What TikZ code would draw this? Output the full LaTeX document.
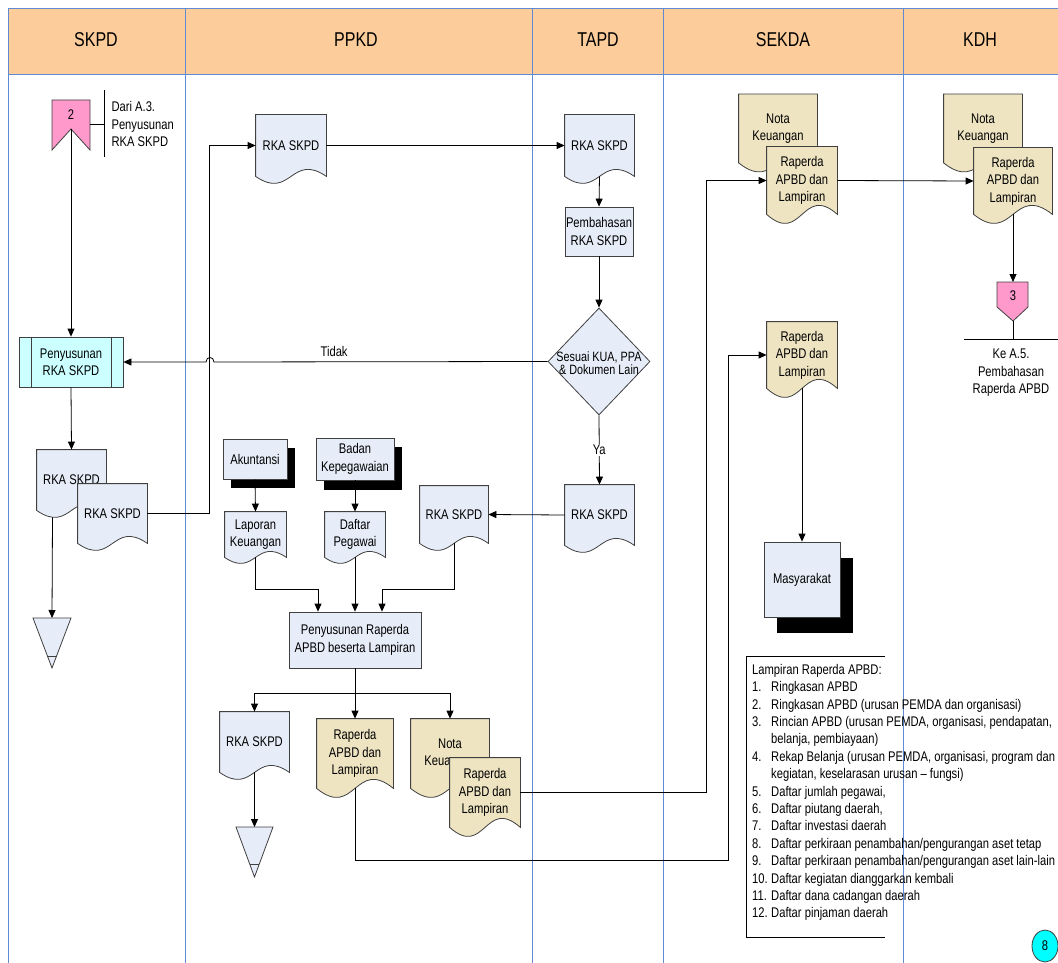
\documentclass[tikz,border=0pt]{standalone}
\usepackage{fontspec}
\setmainfont[FakeStretch=0.8]{Liberation Sans}
\usepackage{tikz}
\usetikzlibrary{arrows.meta,shapes.geometric,shadows}

\definecolor{headpeach}{RGB}{252,204,154}
\definecolor{laneblue}{RGB}{96,138,212}
\definecolor{docblue}{RGB}{231,237,248}
\definecolor{doctan}{RGB}{238,228,194}
\definecolor{proccyan}{RGB}{204,255,255}
\definecolor{refpink}{RGB}{255,153,204}
\definecolor{pagecyan}{RGB}{0,255,255}
\definecolor{shapegray}{RGB}{64,64,64}

\newcommand{\flowfont}{\fontsize{14}{17.4}\selectfont}
\newcommand{\headfont}{\fontsize{20}{24}\selectfont}
\newcommand{\nomor}[1]{\makebox[19pt][l]{#1}}

% dokumen: kotak dengan tepi bawah bergelombang
\makeatletter
\def\docwave{7pt}
\newdimen\docup
\newdimen\docdown
\pgfdeclareshape{wavydoc}{
  \inheritsavedanchors[from=rectangle]
  \inheritanchorborder[from=rectangle]
  \inheritanchor[from=rectangle]{center}
  \inheritanchor[from=rectangle]{text}
  \inheritanchor[from=rectangle]{base}
  \inheritanchor[from=rectangle]{mid}
  \inheritanchor[from=rectangle]{north}
  \inheritanchor[from=rectangle]{south}
  \inheritanchor[from=rectangle]{east}
  \inheritanchor[from=rectangle]{west}
  \inheritanchor[from=rectangle]{north east}
  \inheritanchor[from=rectangle]{north west}
  \inheritanchor[from=rectangle]{south east}
  \inheritanchor[from=rectangle]{south west}
  \backgroundpath{
    \southwest \pgf@xa=\pgf@x \pgf@ya=\pgf@y
    \northeast \pgf@xb=\pgf@x \pgf@yb=\pgf@y
    \pgf@xc=.5\pgf@xa \advance\pgf@xc by .5\pgf@xb
    \pgf@yc=\docwave\relax \pgf@yc=3.47\pgf@yc
    \docup=\pgf@ya \advance\docup by \pgf@yc
    \docdown=\pgf@ya \advance\docdown by -\pgf@yc
    \pgfpathmoveto{\pgfqpoint{\pgf@xa}{\pgf@ya}}
    \pgfpathlineto{\pgfqpoint{\pgf@xa}{\pgf@yb}}
    \pgfpathlineto{\pgfqpoint{\pgf@xb}{\pgf@yb}}
    \pgfpathlineto{\pgfqpoint{\pgf@xb}{\pgf@ya}}
    \pgfpathcurveto{\pgfqpoint{\pgf@xc}{\docup}}{\pgfqpoint{\pgf@xc}{\docdown}}{\pgfqpoint{\pgf@xa}{\pgf@ya}}
    \pgfpathclose
  }
}
\makeatother

\tikzset{
lane/.style={draw=laneblue, line width=0.9pt},
judul/.style={font=\headfont},
teks/.style={font=\flowfont, align=center},
flow/.style={draw=black, line width=0.8pt, -{Triangle[length=8pt,width=7pt]}},
link/.style={draw=black, line width=0.8pt},
docwave/.code={\def\docwave{#1}},
doc/.style={shape=wavydoc, draw=shapegray, fill=docblue, line width=0.8pt, align=center, inner sep=1pt, font=\flowfont},
rka/.style={doc, minimum width=69pt, minimum height=60pt},
kecil/.style={doc, minimum width=61pt, minimum height=45pt, docwave=6pt},
raperda/.style={doc, fill=doctan, minimum width=70pt, minimum height=68pt, docwave=9pt},
nota/.style={raperda, minimum width=78pt},
proses/.style={rectangle, draw=shapegray, fill=docblue, line width=0.8pt, align=center, inner sep=1pt, font=\flowfont},
eksternal/.style={proses, general shadow={fill=black, shadow xshift=8pt, shadow yshift=-9pt}},
decision/.style={diamond, draw=shapegray, fill=docblue, line width=0.8pt, inner sep=0pt, minimum width=102pt, minimum height=107pt},
arsip/.style={draw=shapegray, fill=docblue, line width=0.8pt},
offpage/.style={draw=shapegray, fill=refpink, line width=0.8pt},
}

\begin{document}
\begin{tikzpicture}[x=1pt, y=-1pt]
\useasboundingbox (0,0) rectangle (1058,963);
\fill[white] (0,0) rectangle (1058,963);
\fill[headpeach] (8,8) rectangle (1058,74);
\draw[lane] (1058,8) -- (8,8) -- (8,963);
\draw[lane] (8,74) -- (1058,74);
\draw[lane] (185,8) -- (185,963);
\draw[lane] (532,8) -- (532,963);
\draw[lane] (663,8) -- (663,963);
\draw[lane] (903,8) -- (903,963);
\node[judul] (hSKPD) at (96,40) {SKPD};
\node[judul] (hPPKD) at (356,40) {PPKD};
\node[judul] (hTAPD) at (598,40) {TAPD};
\node[judul] (hSEKDA) at (783,40) {SEKDA};
\node[judul] (hKDH) at (980,40) {KDH};

% SKPD
\draw[offpage] (52,100) -- (90,100) -- (90,150) -- (71,129) -- (52,150) -- cycle;
\node[teks] (ke2) at (71,115) {2};
\coordinate (ke2b) at (71,129);
\coordinate (dariA) at (90,124);
\coordinate (dariB) at (104,124);
\draw[link] (dariA) -- (dariB);
\draw[link] (104,90) -- (104,157);
\node[font=\flowfont, align=left, anchor=west] (dari) at (108,124) {Dari A.3.\\Penyusunan\\RKA SKPD};

\node[proses, fill=proccyan, minimum width=104pt, minimum height=50pt] (pen) at (71,362) {Penyusunan\\RKA SKPD};
\draw[shapegray, line width=0.8pt] ([xshift=13pt]pen.north west) -- ([xshift=13pt]pen.south west);
\draw[shapegray, line width=0.8pt] ([xshift=-12pt]pen.north east) -- ([xshift=-12pt]pen.south east);

\node[rka] (skpdA) at (71.5,480) {RKA SKPD};
\node[rka, minimum height=59pt] (skpdB) at (112.5,513.5) {RKA SKPD};

\draw[arsip] (33,618) -- (71,618) -- (52,668) -- cycle;
\draw[arsip] (47.4,656) -- (56.6,656);
\coordinate (arsipA) at (52,618);

% PPKD
\node[rka, minimum width=70pt, minimum height=61pt] (ppkdA) at (291,145.5) {RKA SKPD};
\node[eksternal, minimum width=64pt, minimum height=40pt] (akun) at (255,459) {Akuntansi};
\node[eksternal, minimum width=78pt, minimum height=42pt, general shadow={fill=black, shadow xshift=8pt, shadow yshift=-10pt}] (badan) at (355,459) {Badan\\Kepegawaian};
\node[kecil] (lapkeu) at (255.5,534.5) {Laporan\\Keuangan};
\node[kecil, minimum width=60pt] (dafpeg) at (355,534.5) {Daftar\\Pegawai};
\node[rka, minimum width=68pt, minimum height=57pt] (ppkdB) at (454,514.5) {RKA SKPD};
\node[proses, minimum width=132pt, minimum height=56pt] (susun) at (355,640) {Penyusunan Raperda\\APBD beserta Lampiran};
\node[rka] (ppkdC) at (254.5,742) {RKA SKPD};
\node[raperda, minimum width=76pt, minimum height=69pt] (raperdaA) at (355,753.5) {Raperda\\APBD dan\\Lampiran};
\node[nota, minimum height=69pt] (notaA) at (450,753.5) {Nota\\Keuangan};
\node[raperda, minimum height=69pt] (raperdaB) at (485,792.5) {Raperda\\APBD dan\\Lampiran};

\draw[arsip] (236,827) -- (273,827) -- (254.5,877) -- cycle;
\draw[arsip] (249.7,864) -- (259.3,864);
\coordinate (arsipB) at (254.5,827);

% TAPD
\node[rka, minimum height=61pt] (tapdA) at (599.5,145.5) {RKA SKPD};
\node[proses, minimum width=66pt, minimum height=49pt] (bahas) at (599,231.5) {Pembahasan\\RKA SKPD};
\node[decision] (cek) at (599,361.5) {};
\node[font=\fontsize{13.5}{13}\selectfont, align=center] (cektxt) at (599,363) {Sesuai KUA, PPA\\\& Dokumen Lain};
\node[rka] (tapdB) at (599.5,515) {RKA SKPD};

% SEKDA
\node[nota] (sekNota) at (778,128.5) {Nota\\Keuangan};
\node[raperda, minimum height=67pt] (sekRap) at (802,180.5) {Raperda\\APBD dan\\Lampiran};
\node[raperda, minimum height=66pt] (sekRap2) at (802,355) {Raperda\\APBD dan\\Lampiran};
\node[proses, minimum width=76pt, minimum height=75pt, general shadow={fill=black, shadow xshift=13pt, shadow yshift=-16pt}] (masy) at (802,579.5) {Masyarakat};

\draw[link] (885,656) -- (746,656) -- (746,937) -- (885,937);
\node[font=\flowfont, align=left, anchor=north west, inner sep=0pt] (lampiran) at (752,664) {Lampiran Raperda APBD:\\
\nomor{1.}Ringkasan APBD\\
\nomor{2.}Ringkasan APBD (urusan PEMDA dan organisasi)\\
\nomor{3.}Rincian APBD (urusan PEMDA, organisasi, pendapatan,\\
\nomor{}belanja, pembiayaan)\\
\nomor{4.}Rekap Belanja (urusan PEMDA, organisasi, program dan\\
\nomor{}kegiatan, keselarasan urusan -- fungsi)\\
\nomor{5.}Daftar jumlah pegawai,\\
\nomor{6.}Daftar piutang daerah,\\
\nomor{7.}Daftar investasi daerah\\
\nomor{8.}Daftar perkiraan penambahan/pengurangan aset tetap\\
\nomor{9.}Daftar perkiraan penambahan/pengurangan aset lain-lain\\
\nomor{10.}Daftar kegiatan dianggarkan kembali\\
\nomor{11.}Daftar dana cadangan daerah\\
\nomor{12.}Daftar pinjaman daerah};

% KDH
\node[nota] (kdhNota) at (983,128.5) {Nota\\Keuangan};
\node[raperda, minimum width=78pt, minimum height=66pt] (kdhRap) at (1013,181) {Raperda\\APBD dan\\Lampiran};
\draw[offpage] (997,282) -- (1028,282) -- (1028,307) -- (1013,321) -- (997,307) -- cycle;
\node[teks] (ke3) at (1013,296) {3};
\coordinate (ke3top) at (1013,282);
\coordinate (ke3tip) at (1013,321);
\coordinate (ke3bar) at (1013,339);
\draw[link] (ke3tip) -- (ke3bar);
\draw[link] (964,339) -- (1058,339);
\node[teks] (keA5) at (1011,373) {Ke A.5.\\Pembahasan\\Raperda APBD};

\node[ellipse, draw=shapegray, fill=pagecyan, line width=0.8pt, minimum width=26pt, minimum height=32pt, inner sep=0pt, font=\flowfont] (hal) at (1045,946) {8};

% alur
\draw[flow] (ke2b) -- (pen.north);
\draw[flow] (cek.west) -- node[above=1pt, pos=0.64, font=\flowfont] (lblTidak) {Tidak} (214,362)
  .. controls (214,356) and (206,356) .. (206,362) -- (pen.east);
\draw[flow] (pen.south) -- (skpdA.north);
\draw[flow] ([xshift=-19pt,yshift=-7pt]skpdA.south) -- (arsipA);
\draw[flow] (skpdB.east) -| ([xshift=-46pt]ppkdA.west) -- (ppkdA.west);
\draw[flow] (ppkdA.east) -- (tapdA.west);
\draw[flow] (tapdA.south) -- (bahas.north);
\draw[flow] (bahas.south) -- (cek.north);
\draw[flow] (cek.south) -- node[fill=white, inner sep=1pt, font=\flowfont] (lblYa) {Ya} (tapdB.north);
\draw[flow] (tapdB.west) -- (ppkdB.east);
\draw[flow] (akun.south) -- (lapkeu.north);
\draw[flow] (badan.south) -- (dafpeg.north);
\draw[flow] (lapkeu.south) -- ++(0,32) -| ([xshift=-37pt]susun.north);
\draw[flow] (dafpeg.south) -- (susun.north);
\draw[flow] (ppkdB.south) -- ++(0,46) -| ([xshift=27pt]susun.north);
\draw[flow] (susun.south) -- (raperdaA.north);
\draw[flow] (susun.south) -- ++(0,25) -| (ppkdC.north);
\draw[flow] (susun.south) -- ++(0,25) -| (notaA.north);
\draw[flow] (ppkdC.south) -- (arsipB);
\draw[flow] (raperdaA.south) |- (728,860) |- (sekRap2.west);
\draw[flow] (raperdaB.east) -| ([xshift=-60pt]sekRap.west) -- (sekRap.west);
\draw[flow] (sekRap.east) -- (kdhRap.west);
\draw[flow] (sekRap2.south) -- (masy.north);
\draw[flow] (kdhRap.south) -- (ke3top);
\end{tikzpicture}
\end{document}
